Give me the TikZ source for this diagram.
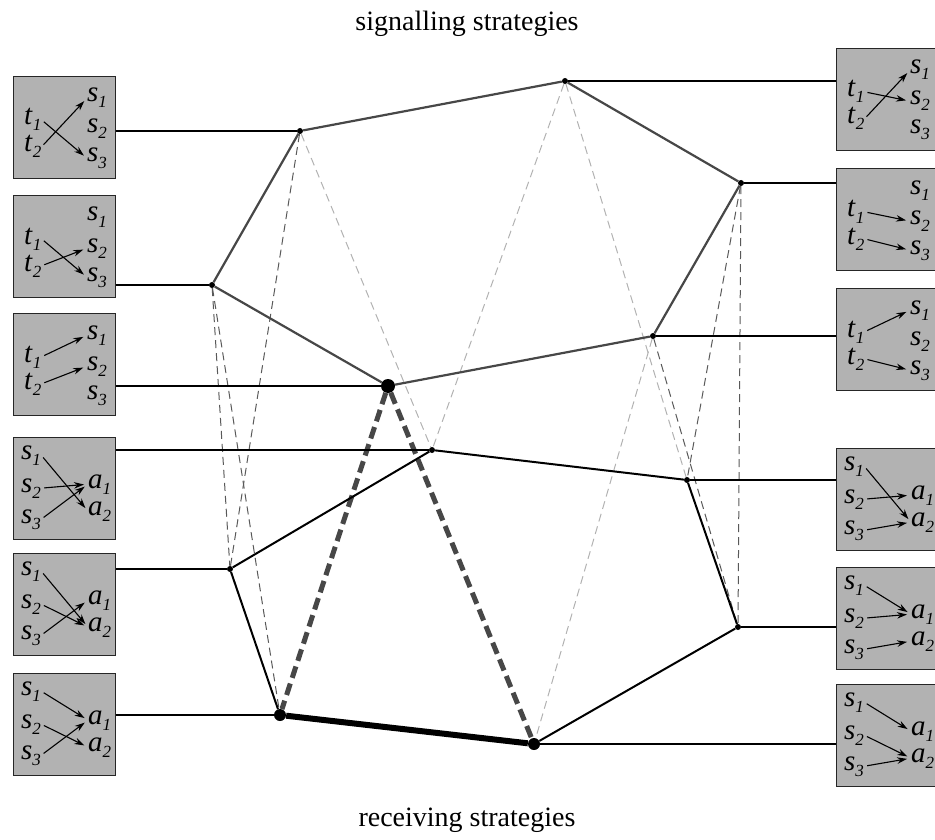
\documentclass[tikz,border=0pt]{standalone}
\usepackage{fontspec}
\setmainfont{Liberation Serif}
\usetikzlibrary{arrows.meta,calc}

% italic letter with a lowered italic index
\newcommand\lbl[2]{\textit{#1}\raisebox{-6pt}{\fontsize{17}{17}\selectfont\textit{#2}}}

\tikzset{
  stratbox/.style={draw=black!85, fill=black!30, line width=1pt, minimum width=102pt,
    minimum height=102pt, inner sep=0pt, anchor=north west},
  lab/.style={inner sep=0pt, anchor=base west, font=\fontsize{29}{29}\selectfont},
  maparrow/.style={line width=1.1pt, -{Stealth[length=10pt,width=6.5pt]},
    shorten <=3pt, shorten >=4pt},
  vtx/.style={circle, fill=black, inner sep=0pt, minimum size=6pt},
  bigvtx/.style={circle, fill=black, inner sep=0pt, minimum size=14pt},
  link/.style={line width=1.5pt, black},
  sigedge/.style={line width=2.2pt, black!72},
  recedge/.style={line width=2pt, black},
  heavyedge/.style={line width=6pt, black},
  darkdash/.style={line width=1pt, black!65, dash pattern=on 8pt off 5pt},
  lightdash/.style={line width=1pt, black!30, dash pattern=on 8pt off 5pt},
  heavydash/.style={line width=5pt, black!72, dash pattern=on 12pt off 6pt},
  title/.style={font=\fontsize{28}{28}\selectfont, inner sep=0pt}
}

% sender strategy box: name, x, y, target of t1, target of t2
\newcommand\sendbox[5]{%
  \node[stratbox] (#1) at (#2,#3) {};
  \node[lab] (#1t1) at ($(#1.north west)+(11,49)$) {\lbl{t}{1}};
  \node[lab] (#1t2) at ($(#1.north west)+(11,76)$) {\lbl{t}{2}};
  \node[lab] (#1s1) at ($(#1.north west)+(74,26)$) {\lbl{s}{1}};
  \node[lab] (#1s2) at ($(#1.north west)+(74,57)$) {\lbl{s}{2}};
  \node[lab] (#1s3) at ($(#1.north west)+(74,86)$) {\lbl{s}{3}};
  \draw[maparrow] (#1t1.east) -- (#1#4.west);
  \draw[maparrow] (#1t2.east) -- (#1#5.west);
}

% receiver strategy box: name, x, y, targets of s1, s2, s3
\newcommand\recvbox[6]{%
  \node[stratbox] (#1) at (#2,#3) {};
  \node[lab] (#1s1) at ($(#1.north west)+(8,22)$) {\lbl{s}{1}};
  \node[lab] (#1s2) at ($(#1.north west)+(8,55)$) {\lbl{s}{2}};
  \node[lab] (#1s3) at ($(#1.north west)+(8,86)$) {\lbl{s}{3}};
  \node[lab] (#1a1) at ($(#1.north west)+(75,51)$) {\lbl{a}{1}};
  \node[lab] (#1a2) at ($(#1.north west)+(75,78)$) {\lbl{a}{2}};
  \draw[maparrow] (#1s1.east) -- (#1#4.west);
  \draw[maparrow] (#1s2.east) -- (#1#5.west);
  \draw[maparrow] (#1s3.east) -- (#1#6.west);
}

\begin{document}
\begin{tikzpicture}[x=1pt,y=-1pt]
\useasboundingbox (0,0) rectangle (935,840);

% titles
\node[title] (toptitle) at (467,24) {signalling strategies};
\node[title] (bottitle) at (467,820) {receiving strategies};

% strategy boxes
\sendbox{L1}{13}{76}{s3}{s1}
\sendbox{L2}{13}{195}{s3}{s2}
\sendbox{L3}{13}{313}{s1}{s2}
\recvbox{L4}{13}{437}{a2}{a1}{a1}
\recvbox{L5}{13}{553}{a2}{a2}{a1}
\recvbox{L6}{13}{673}{a1}{a2}{a1}
\sendbox{R1}{836}{48}{s2}{s1}
\sendbox{R2}{836}{168}{s2}{s3}
\sendbox{R3}{836}{288}{s1}{s3}
\recvbox{R4}{836}{448}{a2}{a1}{a2}
\recvbox{R5}{836}{567}{a1}{a1}{a2}
\recvbox{R6}{836}{684}{a1}{a2}{a2}

% vertices: sender strategies
\node[vtx] (A) at (300,131) {};
\node[vtx] (B) at (565,81) {};
\node[vtx] (C) at (741,183) {};
\node[vtx] (D) at (653,336) {};
\node[bigvtx] (E) at (388,386) {};
\node[vtx] (F) at (212,285) {};
% vertices: receiver strategies
\node[vtx] (G) at (432,450) {};
\node[vtx] (H) at (687,480) {};
\node[vtx] (I) at (738,627) {};
\node[bigvtx, minimum size=12pt] (J) at (534,744) {};
\node[bigvtx, minimum size=12pt] (K) at (280,715) {};
\node[vtx] (L) at (230,569) {};

% signalling systems
\draw[lightdash] (A) -- (G);
\draw[darkdash] (A) -- (L);
\draw[lightdash] (B) -- (G);
\draw[lightdash] (B) -- (H);
\draw[darkdash] (C) -- (H);
\draw[darkdash] (C) -- (I);
\draw[darkdash] (D) -- (I);
\draw[lightdash] (D) -- (J);
\draw[darkdash] (F) -- (L);
\draw[darkdash] (F) -- (K);
\draw[heavydash] (E) -- (K);
\draw[heavydash] (E) -- (J);

% sender cycle
\draw[sigedge] (A) -- (B) -- (C) -- (D) -- (E) -- (F) -- (A);
% receiver cycle
\draw[recedge] (G) -- (H) -- (I) -- (J);
\draw[recedge] (K) -- (L) -- (G);
\draw[heavyedge] (J) -- (K);

% box connections
\draw[link] (A) -- (A -| L1.east);
\draw[link] (F) -- (F -| L2.east);
\draw[link] (E) -- (E -| L3.east);
\draw[link] (G) -- (G -| L4.east);
\draw[link] (L) -- (L -| L5.east);
\draw[link] (K) -- (K -| L6.east);
\draw[link] (B) -- (B -| R1.west);
\draw[link] (C) -- (C -| R2.west);
\draw[link] (D) -- (D -| R3.west);
\draw[link] (H) -- (H -| R4.west);
\draw[link] (I) -- (I -| R5.west);
\draw[link] (J) -- (J -| R6.west);
\end{tikzpicture}
\end{document}
